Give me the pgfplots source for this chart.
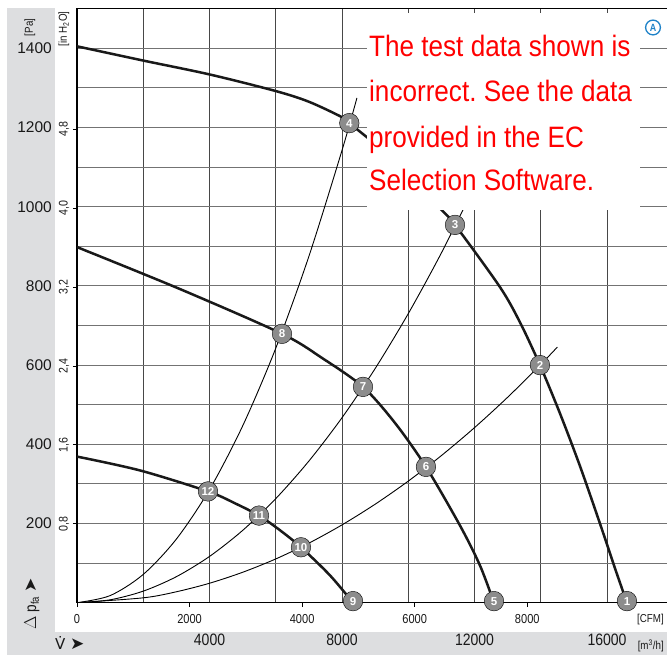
\documentclass[border=0pt]{standalone}
\usepackage{pgfplots}
\pgfplotsset{compat=1.18}
\usepackage{fontspec}
\setmainfont{Liberation Sans}
\newfontfamily\condfont[FakeStretch=0.85]{Liberation Sans}
\newfontfamily\redfont[FakeStretch=0.885]{Liberation Sans}
\newfontfamily\symfont{DejaVu Sans}
\definecolor{band}{RGB}{221,222,224}
\definecolor{mk}{RGB}{140,140,140}
\definecolor{ablue}{RGB}{30,130,200}
\definecolor{txt}{RGB}{25,25,25}
\frenchspacing
\tikzset{
  num/.style={text=white, font=\bfseries\fontsize{11.5}{12}\selectfont, inner sep=0pt},
  pa/.style={anchor=east, inner sep=0pt, text=txt, font=\fontsize{15.5}{16}\selectfont, xshift=-25pt},
  inh/.style={xshift=-13pt, rotate=90, inner sep=0pt, text=txt, font=\condfont\fontsize{12.5}{13}\selectfont},
  cfm/.style={inner sep=0pt, text=txt, font=\condfont\fontsize{13}{14}\selectfont, yshift=-16pt},
  mh/.style={inner sep=0pt, text=txt, font=\condfont\fontsize{16.5}{17}\selectfont, yshift=-37pt},
  red/.style={anchor=base west, inner sep=0pt, text=red, font=\redfont\fontsize{29.5}{30}\selectfont},
}
\begin{document}
\begin{tikzpicture}[x=1pt,y=1pt]
\clip (0,0) rectangle (667,655);
\fill[white] (0,0) rectangle (667,655);
\fill[band] (7,0) rectangle (55,647);
\fill[band] (7,0) rectangle (667,23);
\begin{axis}[
  at={(77pt,52.3pt)}, anchor=south west,
  scale only axis, width=596.3pt, height=594pt,
  xmin=0, xmax=18000, ymin=0, ymax=1500,
  scaled x ticks=false, scaled y ticks=false,
  clip mode=individual,
  axis line style={black, line width=1.1pt},
  tick pos=left,
  xtick={2000,4000,...,16000}, ytick={100,200,...,1400},
  xticklabels={}, yticklabels={},
  major tick length=0pt,
  xmajorgrids, ymajorgrids,
  x grid style={black!72, line width=1pt},
  y grid style={black!55, line width=1pt},
  extra x ticks={0,3398,6796,10194,13592},
  extra x tick labels={},
  extra x tick style={grid=none, tick align=outside, major tick length=4pt, tick style={black, line width=0.9pt}},
  extra y ticks={199.27,398.54,597.82,797.09,996.36,1195.63},
  extra y tick labels={},
  extra y tick style={grid=none, tick align=outside, major tick length=4pt, tick style={black, line width=0.9pt}},
]
% system curves (thin)
\addplot[black, line width=0.9pt, smooth] coordinates {(0,0) (1000,17.9) (2000,71.4) (3000,160.7) (4000,285.6) (5000,446.3) (6000,642.6) (7000,874.7) (8000,1142.4) (8450,1274.6)};
\addplot[black, line width=0.9pt, smooth] coordinates {(0,0) (1000,7.3) (2000,29.2) (3000,65.7) (4000,116.8) (5000,182.5) (6000,262.8) (7000,357.7) (8000,467.2) (9000,591.3) (10000,730) (11000,883.3) (12000,1051.2)};
\addplot[black, line width=0.9pt, smooth] coordinates {(0,0) (2000,12.3) (3000,27.6) (4000,49.1) (5000,76.8) (6000,110.5) (7000,150.4) (8000,196.5) (9000,248.7) (10000,307) (11000,371.5) (12000,442.1) (13000,518.8) (14000,601.7) (14500,645.5)};
% fan curves (thick)
\addplot[black!90, line width=2.5pt, smooth] coordinates {(0,1405) (2000,1369) (4000,1334) (6000,1292) (7000,1265) (8000,1226) (8219,1211) (9146,1148) (10051,1076) (10957,996) (11410,954) (12768,797) (13372,708) (13975,600) (14579,478) (15183,345) (15786,200) (16239,87) (16601,0)};
\addplot[black!90, line width=2.5pt, smooth] coordinates {(0,898) (3109,792) (6188,679) (7395,618) (8633,545) (9598,454) (10534,343) (11560,195) (12164,94) (12587,0)};
\addplot[black!90, line width=2.5pt, smooth] coordinates {(0,369) (1902,334) (3954,281) (4769,251) (5494,220) (6127,183) (6761,140) (7637,69) (8331,0)};
% operating points
\addplot[only marks, mark=*, mark size=9.8pt, mark options={fill=mk, draw=none}] coordinates {(16601,4) (13975,600) (11410,954) (8219,1211) (12587,4) (10534,343) (8633,545) (6188,679) (8331,4) (6761,140) (5494,220) (3954,281)};
\node[num] at (axis cs:16601,4) {1};
\node[num] at (axis cs:13975,600) {2};
\node[num] at (axis cs:11410,954) {3};
\node[num] at (axis cs:8219,1211) {4};
\node[num] at (axis cs:12587,4) {5};
\node[num] at (axis cs:10534,343) {6};
\node[num] at (axis cs:8633,545) {7};
\node[num] at (axis cs:6188,679) {8};
\node[num] at (axis cs:8331,4) {9};
\node[num] at (axis cs:6761,140) {10};
\node[num] at (axis cs:5494,220) {11};
\node[num] at (axis cs:3954,281) {12};
% Pa labels
\node[pa] at (axis cs:0,200) {200};
\node[pa] at (axis cs:0,400) {400};
\node[pa] at (axis cs:0,600) {600};
\node[pa] at (axis cs:0,800) {800};
\node[pa] at (axis cs:0,1000) {1000};
\node[pa] at (axis cs:0,1200) {1200};
\node[pa] at (axis cs:0,1400) {1400};
% inH2O labels
\node[inh] at (axis cs:0,199.27) {0,8};
\node[inh] at (axis cs:0,398.54) {1,6};
\node[inh] at (axis cs:0,597.82) {2,4};
\node[inh] at (axis cs:0,797.09) {3,2};
\node[inh] at (axis cs:0,996.36) {4,0};
\node[inh] at (axis cs:0,1195.63) {4,8};
% CFM labels
\node[cfm] at (axis cs:0,0) {0};
\node[cfm] at (axis cs:3398,0) {2000};
\node[cfm] at (axis cs:6796,0) {4000};
\node[cfm] at (axis cs:10194,0) {6000};
\node[cfm] at (axis cs:13592,0) {8000};
% m3/h labels
\node[mh] at (axis cs:4000,0) {4000};
\node[mh] at (axis cs:8000,0) {8000};
\node[mh] at (axis cs:12000,0) {12000};
\node[mh] at (axis cs:16000,0) {16000};
\end{axis}
% text box
\fill[white] (367,445) rectangle (640,642);
\node[red] at (369,598.3) {The test data shown is};
\node[red] at (369,553.3) {incorrect. See the data};
\node[red] at (369,507.3) {provided in the EC};
\node[red] at (369,464.3) {Selection Software.};
% circled A
\draw[ablue, line width=1.3pt, fill=white] (653,627.5) circle (7.4);
\node[text=ablue, font=\bfseries\condfont\fontsize{10.5}{10}\selectfont, inner sep=0pt] at (653,627.3) {A};
% unit labels
\node[rotate=90, inner sep=0pt, text=txt, font=\condfont\fontsize{11.5}{12}\selectfont] at (30,627.5) {[Pa]};
\node[rotate=90, inner sep=0pt, text=txt, font=\condfont\fontsize{11.5}{12}\selectfont] at (64,626) {[in H\textsubscript{2}O]};
\node[anchor=east, inner sep=0pt, text=txt, font=\condfont\fontsize{11.5}{12}\selectfont] at (664,35) {[CFM]};
\node[anchor=east, inner sep=0pt, text=txt, font=\condfont\fontsize{11.5}{12}\selectfont] at (664,9) {[m\textsuperscript{3}/h]};
\node[rotate=90, inner sep=0pt, text=txt, font=\condfont\fontsize{16}{16}\selectfont] at (32,51) {$\Delta$ p\textsubscript{fa} {\symfont\fontsize{17}{17}\selectfont ➤}};
\node[inner sep=0pt, text=txt, font=\symfont\fontsize{15}{16}\selectfont, anchor=west] at (55,12) {V\char"0307\ {\fontsize{17}{17}\selectfont ➤}};
\end{tikzpicture}
\end{document}
